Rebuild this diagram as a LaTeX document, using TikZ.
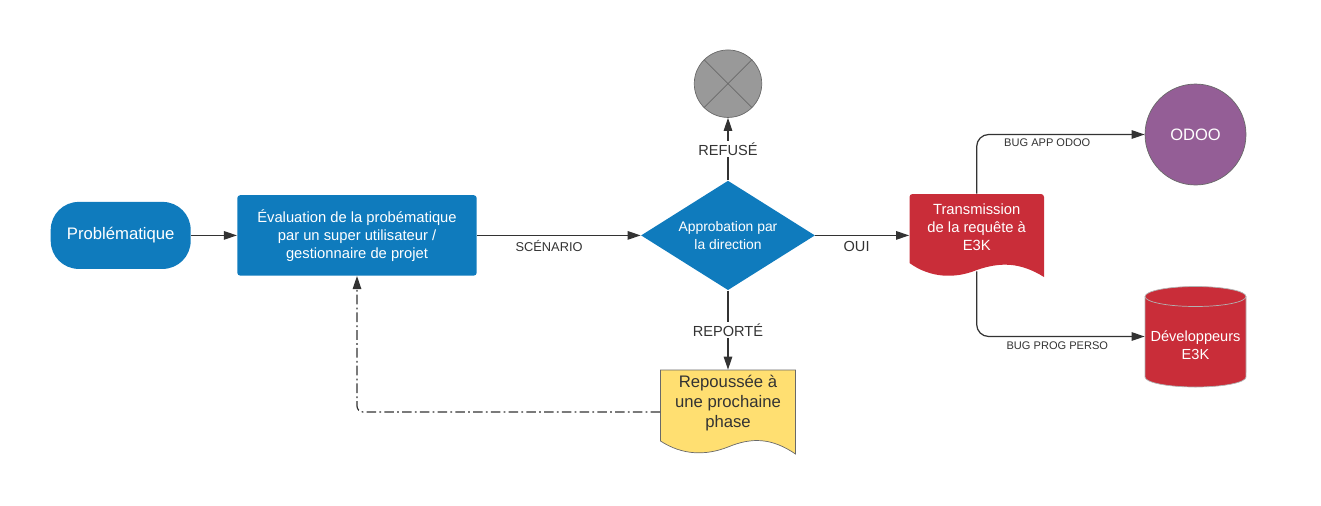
\documentclass[tikz,border=0pt]{standalone}
\usepackage{fontspec}
\setmainfont{Liberation Sans}
\usepackage{tikz}
\usetikzlibrary{shapes.geometric, arrows.meta, calc}
\definecolor{flowblue}{RGB}{15, 123, 189}
\definecolor{e3kred}{RGB}{201, 45, 57}
\definecolor{odoopurple}{RGB}{148, 94, 150}
\definecolor{phaseyellow}{RGB}{255, 223, 113}
\definecolor{refusegray}{RGB}{153, 153, 153}
\definecolor{linegray}{RGB}{51, 51, 51}
\definecolor{bordergray}{RGB}{105, 105, 105}

\begin{document}
\begin{tikzpicture}[x=0.02cm, y=-0.02cm,
        flow/.style={draw=linegray, line width=0.7pt, -{Triangle[length=0.26cm, width=0.17cm]}},
        edgelabel/.style={text=linegray, inner sep=1pt, font=\fontsize{8.3}{10}\selectfont},
        buglabel/.style={text=linegray, inner sep=1pt, font=\fontsize{6.3}{8}\selectfont}]
        \useasboundingbox (0, 0) rectangle (1321, 505);

        % Document and database outlines
        \fill[e3kred] (909.5, 263) [rounded corners=0.06cm] -- (909.5, 194) -- (1044, 194) [sharp corners] -- (1044, 277)
            .. controls (1020, 262) and (1000, 262) .. (976.7, 270)
            .. controls (955, 279) and (930, 278) .. (909.5, 263) -- cycle;
        \draw[bordergray, line width=0.4pt, fill=phaseyellow] (660.5, 370) -- (795.5, 370) -- (795.5, 454)
            .. controls (772, 438) and (752, 437) .. (728, 447)
            .. controls (705, 456) and (682, 455) .. (660.5, 441) -- cycle;
        \draw[gray!60, line width=0.4pt, fill=e3kred] (1145, 296.5) -- (1145, 377)
            arc[start angle=180, end angle=360, x radius=1.01cm, y radius=0.2cm] -- (1246, 296.5)
            arc[start angle=0, end angle=180, x radius=1.01cm, y radius=0.2cm] -- cycle;
        \draw[gray!60, line width=0.4pt] (1145, 296.5) arc[start angle=180, end angle=360, x radius=1.01cm, y radius=0.2cm];

        % Process nodes
        \node[fill=flowblue, rounded corners=0.56cm, minimum width=2.8cm, minimum height=1.34cm, text=white, font=\fontsize{9.5}{11}\selectfont] (prob) at (120.7, 235.4) {Problématique};
        \node[fill=flowblue, rounded corners=0.06cm, minimum width=4.79cm, minimum height=1.61cm, text=white, align=center, font=\fontsize{8.4}{10.2}\selectfont] (eval) at (357, 235.4) {Évaluation de la probématique\\par un super utilisateur /\\gestionnaire de projet};
        \node[diamond, fill=flowblue, minimum width=3.48cm, minimum height=2.19cm, inner sep=0pt, aspect=1.6, text=white, align=center, font=\fontsize{7.9}{10.2}\selectfont] (appr) at (728, 235.4) {Approbation par\\la direction};
        \node[circle, fill=refusegray, draw=bordergray, line width=0.4pt, minimum size=1.35cm, inner sep=0pt] (refuse) at (728, 83.7) {};
        \draw[bordergray, line width=0.4pt] (refuse.north west) -- (refuse.south east) (refuse.north east) -- (refuse.south west);
        \node[minimum width=2.69cm, minimum height=1.32cm, inner sep=0pt, text=white, align=center, font=\fontsize{8.4}{10.2}\selectfont] (trans) at (976.7, 227) {Transmission\\de la requête à\\E3K};
        \node[circle, fill=odoopurple, draw=bordergray, line width=0.4pt, minimum size=2.02cm, inner sep=0pt, text=white, font=\fontsize{9.4}{11}\selectfont] (odoo) at (1195.5, 134.5) {ODOO};
        \node[minimum width=2.02cm, inner sep=0pt, text=white, align=center, font=\fontsize{8.3}{10.2}\selectfont] (dev) at (1195.5, 345) {Développeurs\\E3K};
        \node[minimum width=2.7cm, minimum height=1.32cm, inner sep=0pt, text=linegray, align=center, font=\fontsize{9.5}{11.4}\selectfont] (phase) at (728, 403) {Repoussée à\\une prochaine\\phase};

        % Flow arrows
        \draw[flow] (prob) -- (eval);
        \draw[flow] (eval) -- node[edgelabel, pos=0.44, yshift=-0.21cm, font=\fontsize{7.3}{9}\selectfont] {SCÉNARIO} (appr);
        \draw[flow] (appr) -- node[edgelabel, fill=white] {REFUSÉ} (refuse);
        \draw[flow] (appr) -- node[edgelabel, pos=0.44, yshift=-0.23cm] {OUI} (appr.east -| trans.west);
        \draw[flow] (appr) -- node[edgelabel, fill=white] {REPORTÉ} (phase);
        \draw[flow, rounded corners=0.24cm] (trans.north) |- node[buglabel, pos=0.71, yshift=-0.17cm] {BUG APP ODOO} (odoo);
        \draw[flow, rounded corners=0.24cm] ([yshift=-0.22cm]trans.south) |- node[buglabel, pos=0.74, yshift=-0.18cm] {BUG PROG PERSO} ([yshift=0.17cm]dev.west);

        % Back to evaluation
        \draw[flow, dash pattern=on 5.5pt off 1.8pt on 1pt off 1.8pt, rounded corners=0.12cm] ([yshift=-0.18cm]phase.west) -| (eval);
    \end{tikzpicture}
\end{document}
